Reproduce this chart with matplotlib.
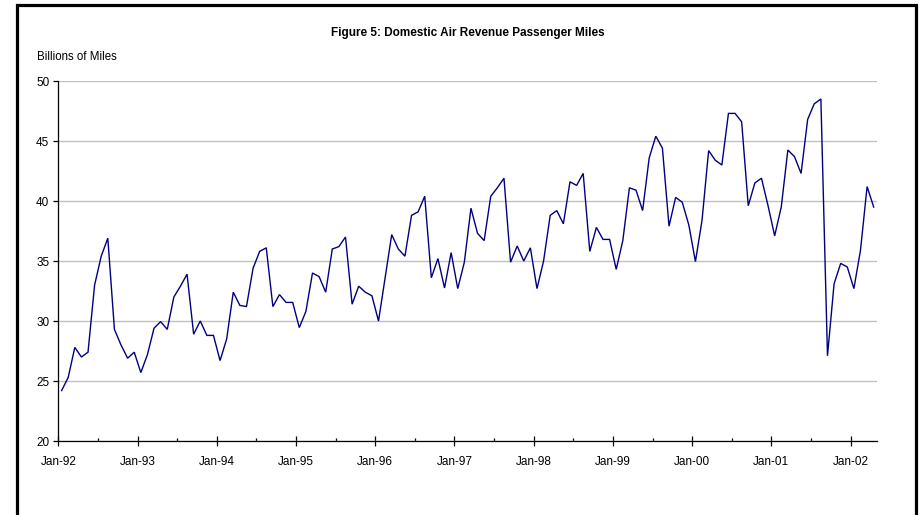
import matplotlib
matplotlib.use("Agg")
import matplotlib.pyplot as plt
from matplotlib.patches import Rectangle
import numpy as np

plt.rcParams['font.family'] = ['Liberation Sans', 'DejaVu Sans']

title = "Figure 5: Domestic Air Revenue Passenger Miles"
ylabel = "Billions of Miles"

# Monthly values, Jan-92 .. Apr-02
rpm_1992 = [24.2, 25.3, 27.8, 27.0, 27.4, 33.0, 35.4, 36.9, 29.3, 28.0, 26.9, 27.4]
rpm_1993 = [25.7, 27.2, 29.4, 29.95, 29.3, 32.0, 32.9, 33.9, 28.9, 30.0, 28.8, 28.8]
rpm_1994 = [26.7, 28.5, 32.4, 31.3, 31.2, 34.4, 35.8, 36.1, 31.2, 32.2, 31.55, 31.55]
rpm_1995 = [29.45, 30.8, 34.0, 33.7, 32.4, 36.0, 36.2, 37.0, 31.4, 32.9, 32.4, 32.1]
rpm_1996 = [30.0, 33.6, 37.2, 36.0, 35.4, 38.8, 39.1, 40.4, 33.6, 35.2, 32.75, 35.7]
rpm_1997 = [32.7, 34.9, 39.4, 37.3, 36.7, 40.4, 41.1, 41.9, 34.9, 36.25, 35.0, 36.1]
rpm_1998 = [32.7, 35.0, 38.8, 39.2, 38.1, 41.6, 41.3, 42.3, 35.8, 37.8, 36.8, 36.8]
rpm_1999 = [34.3, 36.7, 41.1, 40.9, 39.2, 43.6, 45.4, 44.4, 37.9, 40.3, 39.9, 38.0]
rpm_2000 = [34.95, 38.4, 44.2, 43.4, 43.0, 47.3, 47.3, 46.6, 39.6, 41.5, 41.9, 39.6]
rpm_2001 = [37.1, 39.5, 44.25, 43.7, 42.3, 46.8, 48.1, 48.5, 27.1, 33.1, 34.8, 34.5]
rpm_2002 = [32.7, 35.9, 41.2, 39.5]

values = (rpm_1992 + rpm_1993 + rpm_1994 + rpm_1995 + rpm_1996 + rpm_1997 +
          rpm_1998 + rpm_1999 + rpm_2000 + rpm_2001 + rpm_2002)

year_labels = ["Jan-92", "Jan-93", "Jan-94", "Jan-95", "Jan-96", "Jan-97",
               "Jan-98", "Jan-99", "Jan-00", "Jan-01", "Jan-02"]
y_ticks = [20, 25, 30, 35, 40, 45, 50]

W, H = 919, 515
fig = plt.figure(figsize=(W / 100, H / 100), dpi=100)
ax = fig.add_axes([58.3 / W, 1 - 441 / H, (877 - 58.3) / W, (441 - 81) / H])

n = len(values)
x = np.arange(n) + 0.5
ax.plot(x, values, color='#000080', lw=1.0, solid_joinstyle='miter')

major = np.arange(len(year_labels)) * 12
minor = major + 6
ax.set_xticks(major)
ax.set_xticklabels(year_labels)
ax.set_xticks(minor[minor < n], minor=True)
ax.set_yticks(y_ticks)
ax.set_xlim(0, n)
ax.set_ylim(20, 50)

ax.grid(axis='y', color='#c0c0c0', lw=1.0)
ax.set_axisbelow(True)
for s in ['top', 'right']:
    ax.spines[s].set_visible(False)
for s in ['left', 'bottom']:
    ax.spines[s].set_color('black')
    ax.spines[s].set_linewidth(0.9)

ax.tick_params(axis='y', direction='out', length=3.5, width=0.9, labelsize=8.5, pad=3)
ax.tick_params(axis='x', which='major', direction='inout', length=7, width=0.9, labelsize=8.5, pad=7)
ax.tick_params(axis='x', which='minor', direction='in', length=2.5, width=0.9)

fig.text(467.5 / W, 1 - 33 / H, title, ha='center', va='center',
         fontsize=8.5, fontweight='bold')
fig.text(37 / W, 1 - 57.5 / H, ylabel, ha='left', va='center', fontsize=8.3)

fig.patches.append(Rectangle((16.5 / W, -0.1), (916 - 16.5) / W, 1.1 - 4.7 / H,
                             transform=fig.transFigure, fill=False,
                             edgecolor='black', lw=2.3, zorder=10))

fig.savefig("out.png", dpi=100)
